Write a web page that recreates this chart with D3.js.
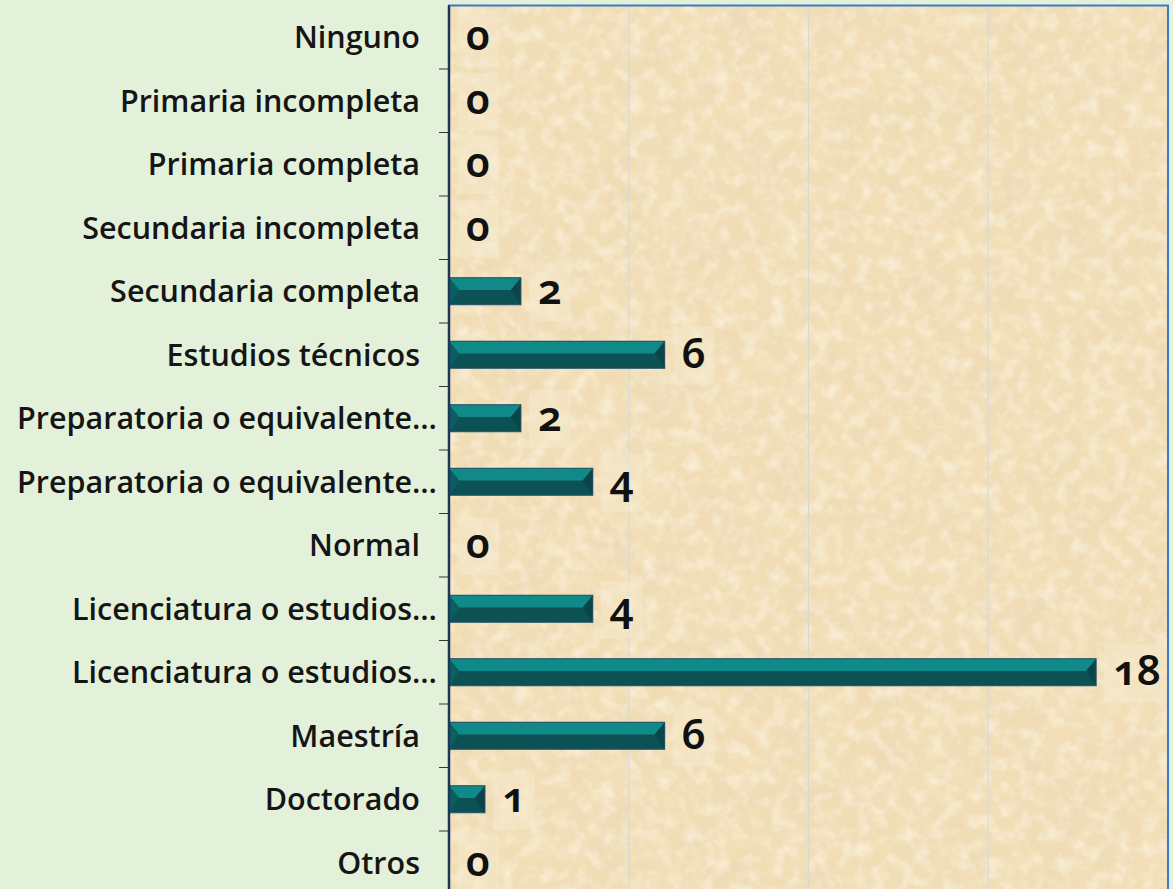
<!DOCTYPE html>
<html>
<head>
<meta charset="utf-8">
<script src="https://cdn.jsdelivr.net/npm/d3@7"></script>
<style>
  html, body { margin: 0; padding: 0; background: #e3f0da; }
  svg { display: block; }
</style>
</head>
<body>
<script>
// ---- data ----
const categories = [
  "Ninguno", "Primaria incompleta", "Primaria completa", "Secundaria incompleta",
  "Secundaria completa", "Estudios técnicos", "Preparatoria o equivalente…",
  "Preparatoria o equivalente…", "Normal", "Licenciatura o estudios…",
  "Licenciatura o estudios…", "Maestría", "Doctorado", "Otros"
];
const values = [0, 0, 0, 0, 2, 6, 2, 4, 0, 4, 18, 6, 1, 0];
const xTicks = [0, 5, 10, 15, 20];

const W = 1173, H = 889;
const svg = d3.select("body").append("svg").attr("width", W).attr("height", H);

const plot = { left: 449, right: 1168, top: 5.5, bottom: 894.5 };
const x = d3.scaleLinear().domain([0, 20]).range([plot.left, plot.right]);
const y = d3.scaleBand().domain(d3.range(categories.length)).range([plot.top, plot.bottom]);

// background
svg.append("rect").attr("width", W).attr("height", H).attr("fill", "#e3f0da");

const defs = svg.append("defs");
const f = defs.append("filter").attr("id", "paper")
  .attr("x", 0).attr("y", 0).attr("width", "100%").attr("height", "100%");
f.append("feTurbulence").attr("type", "fractalNoise").attr("baseFrequency", "0.022")
  .attr("numOctaves", 4).attr("seed", 7).attr("result", "n");
f.append("feColorMatrix").attr("in", "n").attr("type", "matrix")
  .attr("values", "0 0 0 0 0.84  0 0 0 0 0.68  0 0 0 0 0.45  1.3 0 0 0 -0.52");
const f2 = defs.append("filter").attr("id", "paper2")
  .attr("x", 0).attr("y", 0).attr("width", "100%").attr("height", "100%");
f2.append("feTurbulence").attr("type", "fractalNoise").attr("baseFrequency", "0.07")
  .attr("numOctaves", 3).attr("seed", 21).attr("result", "n");
f2.append("feColorMatrix").attr("in", "n").attr("type", "matrix")
  .attr("values", "0 0 0 0 1  0 0 0 0 0.96  0 0 0 0 0.86  1.2 0 0 0 -0.5");

const clipId = "plotclip";
defs.append("clipPath").attr("id", clipId).append("rect")
  .attr("x", plot.left).attr("y", plot.top)
  .attr("width", plot.right - plot.left).attr("height", plot.bottom - plot.top);

// plot area texture
const pa = svg.append("g").attr("clip-path", `url(#${clipId})`);
pa.append("rect").attr("x", plot.left).attr("y", plot.top)
  .attr("width", plot.right - plot.left).attr("height", plot.bottom - plot.top)
  .attr("fill", "#f1deb6");
pa.append("rect").attr("x", plot.left).attr("y", plot.top)
  .attr("width", plot.right - plot.left).attr("height", plot.bottom - plot.top)
  .attr("filter", "url(#paper)");
pa.append("rect").attr("x", plot.left).attr("y", plot.top)
  .attr("width", plot.right - plot.left).attr("height", plot.bottom - plot.top)
  .attr("filter", "url(#paper2)");

// gridlines
pa.selectAll("line.grid").data(xTicks.filter(t => t > 0 && t < 20)).join("line")
  .attr("class", "grid")
  .attr("x1", d => x(d)).attr("x2", d => x(d))
  .attr("y1", plot.top).attr("y2", plot.bottom)
  .attr("stroke", "#d6d8d6").attr("stroke-width", 1);

// bars
const bh = 27;
const bars = pa.selectAll("g.bar").data(values.map((v, i) => ({ v, i }))).join("g").attr("class", "bar");

bars.each(function (d) {
  const g = d3.select(this);
  const cy = y(d.i) + y.bandwidth() / 2;
  if (d.v <= 0) return;
  const x0 = x(0), x1 = x(d.v), y0 = cy - bh / 2, y1 = cy + bh / 2;
  const w = x1 - x0;
  const b = Math.min(10, w / 2.5), t = bh * 0.45;
  g.append("rect").attr("x", x0).attr("y", y0).attr("width", w).attr("height", bh)
    .attr("fill", "#0c5154");
  g.append("polygon").attr("points", [[x0, y0], [x1, y0], [x1 - b, y0 + t], [x0 + b, y0 + t]].join(" "))
    .attr("fill", "#0f8a89");
  g.append("polygon").attr("points", [[x0, y0], [x0 + b, y0 + t], [x0 + 2, y1 - 2], [x0, y1]].join(" "))
    .attr("fill", "#0c5f60");
  g.append("polygon").attr("points", [[x1, y0], [x1 - b, y0 + t], [x1 - 2, y1 - 2], [x1, y1]].join(" "))
    .attr("fill", "#0a4649");
  g.append("rect").attr("x", x0).attr("y", y0).attr("width", w).attr("height", bh)
    .attr("fill", "none").attr("stroke", "#24506a").attr("stroke-width", 1);
});

// value labels
const vl = svg.append("g");
values.forEach((v, i) => {
  const cy = y(i) + y.bandwidth() / 2;
  const tx = x(v) + 17;
  const bg = vl.append("rect");
  const t = vl.append("text").attr("x", tx).attr("y", cy + 13)
    .attr("font-family", "'Noto Sans', 'Open Sans', sans-serif")
    .attr("font-weight", 600).attr("font-size", 42)
    .style("font-variant-numeric", "oldstyle-nums")
    .attr("fill", "#111").text(v);
  const bb = t.node().getBBox();
  bg.attr("x", bb.x - 9).attr("y", cy - 28).attr("width", bb.width + 18).attr("height", 58)
    .attr("fill", "#f7ead0").attr("opacity", 0.45);
});

// plot border
svg.append("rect").attr("x", plot.left).attr("y", plot.top)
  .attr("width", plot.right - plot.left).attr("height", plot.bottom - plot.top)
  .attr("fill", "none").attr("stroke", "#3b7cc0").attr("stroke-width", 2);

// y axis
const yAxis = svg.append("g");
yAxis.append("line").attr("x1", plot.left).attr("x2", plot.left)
  .attr("y1", plot.top).attr("y2", plot.bottom)
  .attr("stroke", "#1d3557").attr("stroke-width", 2.5);
yAxis.selectAll("line.tick").data(d3.range(1, categories.length + 1)).join("line")
  .attr("class", "tick")
  .attr("x1", plot.left - 10).attr("x2", plot.left)
  .attr("y1", d => y.step() * d + plot.top).attr("y2", d => y.step() * d + plot.top)
  .attr("stroke", "#333").attr("stroke-width", 1);

yAxis.selectAll("text.cat").data(categories).join("text")
  .attr("class", "cat")
  .attr("x", d => d.endsWith("…") ? 437 : 420)
  .attr("y", (d, i) => y(i) + y.bandwidth() / 2 + 11)
  .attr("text-anchor", "end")
  .attr("font-family", "'Open Sans', sans-serif")
  .attr("font-weight", 600).attr("font-size", 30.5)
  .attr("fill", "#151515")
  .text(d => d);
</script>
</body>
</html>
